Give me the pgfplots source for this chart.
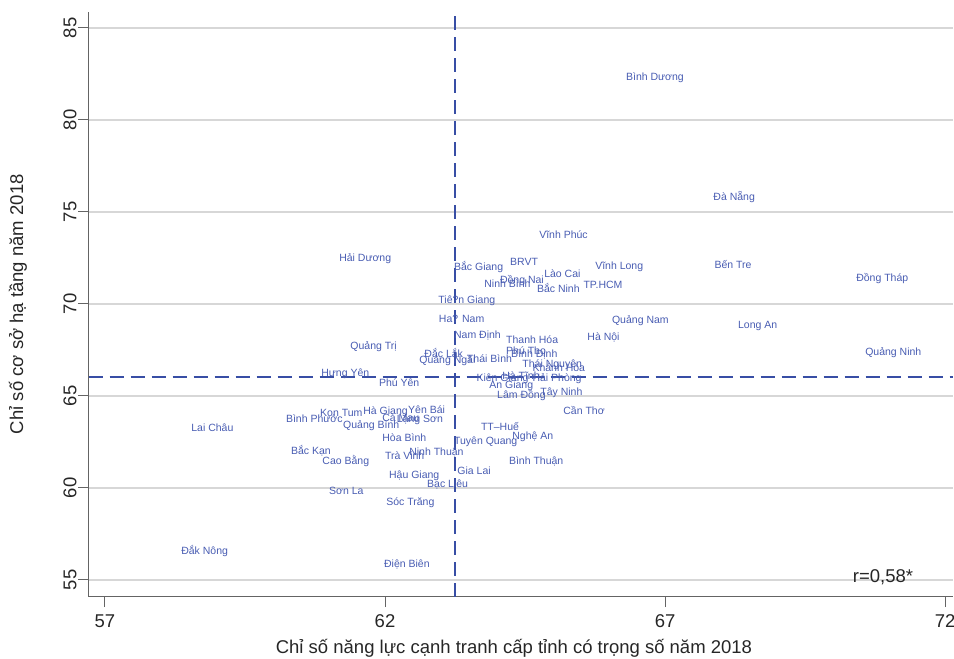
\documentclass[border=0pt]{standalone}
\usepackage{pgfplots}
\pgfplotsset{compat=1.18}
\usepackage{pgfplotstable}
\usepackage{fontspec}
\setmainfont{Liberation Sans}

\definecolor{labcol}{RGB}{72,92,178}
\definecolor{refcol}{RGB}{56,78,165}
\definecolor{axcol}{RGB}{100,100,100}
\definecolor{gridcol}{RGB}{215,215,215}

% Weighted PCI 2018 (x) vs. infrastructure sub-index 2018 (y), by province
\pgfplotstableread[col sep=comma,row sep=\\]{
x,y,lab\\
66.20,82.34,Bình Dương\\
67.76,75.82,Đà Nẵng\\
64.65,73.75,Vĩnh Phúc\\
61.08,72.50,Hải Dương\\
63.13,72.01,Bắc Giang\\
64.13,72.28,BRVT\\
65.65,72.07,Vĩnh Long\\
67.78,72.12,Bến Tre\\
64.74,71.63,Lào Cai\\
70.31,71.41,Đồng Tháp\\
63.95,71.30,Đồng Nai\\
63.67,71.09,Ninh Bình\\
64.61,70.82,Bắc Ninh\\
65.44,71.03,TP.HCM\\
62.85,70.22,Tiê?n Giang\\
62.86,69.18,Ha? Nam\\
65.95,69.13,Quảng Nam\\
68.20,68.86,Long An\\
63.13,68.32,Nam Định\\
64.06,68.04,Thanh Hóa\\
65.51,68.21,Hà Nội\\
61.28,67.72,Quảng Trị\\
64.06,67.45,Phú Thọ\\
64.15,67.28,Bình Định\\
70.47,67.39,Quảng Ninh\\
62.60,67.28,Đắc Lắk\\
62.51,66.96,Quảng Ngãi\\
63.36,67.01,Thái Bình\\
64.35,66.74,Thái Nguyên\\
64.53,66.52,Khánh Hòa\\
60.76,66.25,Hưng Yên\\
63.53,65.98,Kiên Giang\\
63.99,66.09,Hà Tĩnh\\
64.53,65.98,Hải Phòng\\
61.79,65.71,Phú Yên\\
63.76,65.60,An Giang\\
63.90,65.05,Lâm Đồng\\
64.67,65.22,Tây Ninh\\
65.08,64.18,Cần Thơ\\
60.74,64.08,Kon Tum\\
61.51,64.18,Hà Giang\\
62.31,64.24,Yên Bái\\
60.13,63.75,Bình Phước\\
61.85,63.80,Cà Mau\\
62.11,63.75,Lạng Sơn\\
61.15,63.42,Quảng Bình\\
58.44,63.26,Lai Châu\\
63.61,63.32,TT–Huế\\
64.17,62.83,Nghệ An\\
61.85,62.72,Hòa Bình\\
63.13,62.55,Tuyên Quang\\
60.22,62.01,Bắc Kạn\\
62.33,61.96,Ninh Thuận\\
61.90,61.74,Trà Vinh\\
60.78,61.47,Cao Bằng\\
64.11,61.47,Bình Thuận\\
63.19,60.92,Gia Lai\\
61.97,60.71,Hậu Giang\\
62.65,60.22,Bạc Liêu\\
60.90,59.84,Sơn La\\
61.92,59.24,Sóc Trăng\\
58.26,56.58,Đắk Nông\\
61.88,55.87,Điện Biên\\
}\provinces

\begin{document}
\begin{tikzpicture}
\useasboundingbox (0,0) rectangle (954pt,659pt);
\begin{axis}[
  at={(88.7pt,62.3pt)}, anchor=south west,
  scale only axis, width=864.3pt, height=585pt,
  xmin=56.71, xmax=72.14, ymin=54.09, ymax=85.886,
  axis x line*=bottom, axis y line*=left,
  axis line style={-, draw=axcol, line width=1pt},
  xtick={57,62,67,72}, ytick={55,60,...,85},
  tick align=outside, major tick length=10.5pt,
  tick style={draw=axcol, line width=1pt},
  /pgf/number format/assume math mode=true,
  ticklabel style={font=\fontsize{18.5}{20}\selectfont, text=black!85},
  yticklabel style={rotate=90, anchor=south, inner sep=1.5pt},
  xticklabel style={inner sep=2pt, yshift=-5pt},
  ymajorgrids, grid style={draw=gridcol, line width=1.1pt},
  xlabel={Chỉ số năng lực cạnh tranh cấp tỉnh có trọng số năm 2018},
  ylabel={Chỉ số cơ sở hạ tầng năm 2018},
  label style={font=\fontsize{18.5}{20}\selectfont, text=black!85},
  xlabel style={at={(axis description cs:0.492,0)}, anchor=center, yshift=-51.3pt},
  ylabel style={at={(axis description cs:-0.0818,0.5)}, anchor=center},
  clip=false,
]
% reference lines at the sample means
\addplot[refcol, line width=2.3pt, dash pattern=on 14pt off 7pt] coordinates {(63.25,54.09) (63.25,85.886)};
\addplot[refcol, line width=2.3pt, dash pattern=on 14pt off 7pt] coordinates {(56.71,66.03) (72.14,66.03)};
% province labels (no markers)
\addplot[draw=none, mark=none, nodes near coords, point meta=explicit symbolic,
  nodes near coords style={font=\fontsize{10.5}{12}\selectfont, text=labcol,
    anchor=base west, inner sep=0pt, xshift=5.6pt, yshift=-3.8pt}]
  table[x=x, y=y, meta=lab] {\provinces};
\node[anchor=west, font=\fontsize{18.5}{20}\selectfont, text=black!85, inner sep=0pt]
  at (rel axis cs:0.884,0.034) {r=0,58*};
\end{axis}
\end{tikzpicture}
\end{document}
